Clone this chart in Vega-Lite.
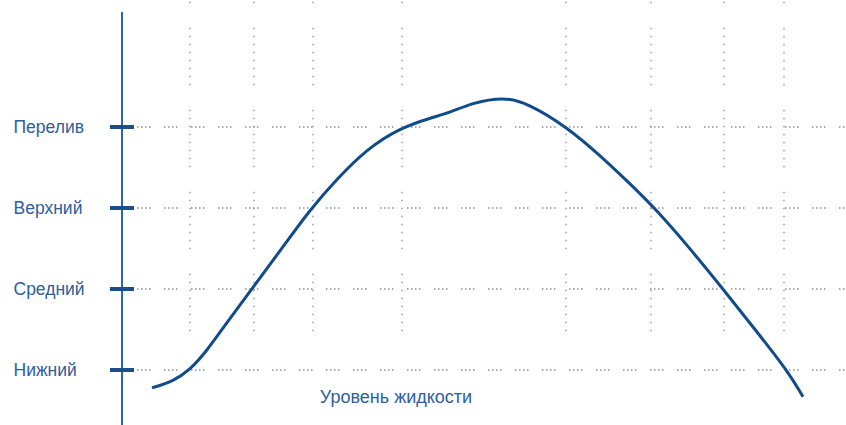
{
  "$schema": "https://vega.github.io/schema/vega-lite/v6.json",
  "width": 724,
  "height": 425,
  "autosize": {"type": "none"},
  "padding": {"left": 122, "top": 0, "right": 0, "bottom": 0},
  "background": "white",
  "config": {"view": {"stroke": null}},
  "datasets": {
    "curve": [
      {"x": 30, "y": 0.78}, {"x": 51, "y": 0.86}, {"x": 68, "y": 1.0}, {"x": 85, "y": 1.24},
      {"x": 101, "y": 1.52}, {"x": 131, "y": 2.02}, {"x": 161, "y": 2.52}, {"x": 188, "y": 2.98},
      {"x": 215, "y": 3.36}, {"x": 245, "y": 3.73}, {"x": 278, "y": 3.99}, {"x": 311, "y": 4.12},
      {"x": 328, "y": 4.18}, {"x": 351, "y": 4.3}, {"x": 381, "y": 4.37}, {"x": 405, "y": 4.3},
      {"x": 445, "y": 4.0}, {"x": 478, "y": 3.65}, {"x": 508, "y": 3.3}, {"x": 535, "y": 2.97},
      {"x": 568, "y": 2.5}, {"x": 601, "y": 2.0}, {"x": 633, "y": 1.5}, {"x": 665, "y": 1.0},
      {"x": 681, "y": 0.67}
    ],
    "levels": [
      {"level": 1, "name": "Нижний"},
      {"level": 2, "name": "Средний"},
      {"level": 3, "name": "Верхний"},
      {"level": 4, "name": "Перелив"}
    ],
    "verticals": [
      {"pos": 68}, {"pos": 132}, {"pos": 191}, {"pos": 280},
      {"pos": 444}, {"pos": 529}, {"pos": 602}, {"pos": 662}
    ]
  },
  "layer": [
    {
      "data": {"name": "verticals"},
      "mark": {"type": "rule", "color": "#8a8f96", "strokeWidth": 1.3, "strokeDash": [1.5, 6.5, 1.5, 6.5, 1.5, 6.5, 1.5, 6.5, 1.5, 6.5, 1.5, 6.5, 1.5, 6.5, 1.5, 24.5], "strokeDashOffset": 54},
      "encoding": {
        "x": {"field": "pos", "type": "quantitative", "scale": {"domain": [0, 724], "nice": false, "zero": false}, "axis": null},
        "y": {"datum": 5.57, "type": "quantitative", "scale": {"domain": [0.321, 5.568], "nice": false, "zero": false}},
        "y2": {"datum": 1.22}
      }
    },
    {
      "data": {"name": "levels"},
      "mark": {"type": "rule", "color": "#8a8f96", "strokeWidth": 1.3, "strokeDash": [1.5, 2.5, 1.5, 2.5, 1.5, 2.5, 1.5, 13.5]},
      "encoding": {
        "x": {"datum": 15, "type": "quantitative"},
        "x2": {"datum": 724},
        "y": {
          "field": "level", "type": "quantitative",
          "axis": {
            "values": [1, 2, 3, 4],
            "title": null,
            "domain": false,
            "ticks": false,
            "grid": false,
            "labelAlign": "left",
            "labelBaseline": "middle",
            "labelPadding": 109,
            "labelFont": "Liberation Sans",
            "labelFontSize": 17.5,
            "labelColor": "#2d609c",
            "labelExpr": "datum.value == 1 ? 'Нижний' : datum.value == 2 ? 'Средний' : datum.value == 3 ? 'Верхний' : 'Перелив'"
          }
        }
      }
    },
    {
      "data": {"values": [{}]},
      "mark": {"type": "rule", "color": "#2b67a8", "strokeWidth": 2},
      "encoding": {
        "x": {"datum": 0, "type": "quantitative"},
        "y": {"datum": 5.42, "type": "quantitative"},
        "y2": {"datum": 0.321}
      }
    },
    {
      "data": {"name": "levels"},
      "mark": {"type": "rule", "color": "#1b4f8c", "strokeWidth": 4},
      "encoding": {
        "x": {"datum": -12, "type": "quantitative"},
        "x2": {"datum": 12},
        "y": {"field": "level", "type": "quantitative"}
      }
    },
    {
      "data": {"name": "curve"},
      "mark": {"type": "line", "color": "#104b8c", "strokeWidth": 3, "interpolate": "basis"},
      "encoding": {
        "x": {"field": "x", "type": "quantitative"},
        "y": {"field": "y", "type": "quantitative"}
      }
    },
    {
      "data": {"values": [{"label": "Уровень жидкости"}]},
      "mark": {"type": "text", "font": "Liberation Sans", "fontSize": 18, "color": "#2d609c", "align": "center", "baseline": "middle"},
      "encoding": {
        "x": {"datum": 274, "type": "quantitative"},
        "y": {"datum": 0.654, "type": "quantitative"},
        "text": {"field": "label"}
      }
    }
  ]
}
